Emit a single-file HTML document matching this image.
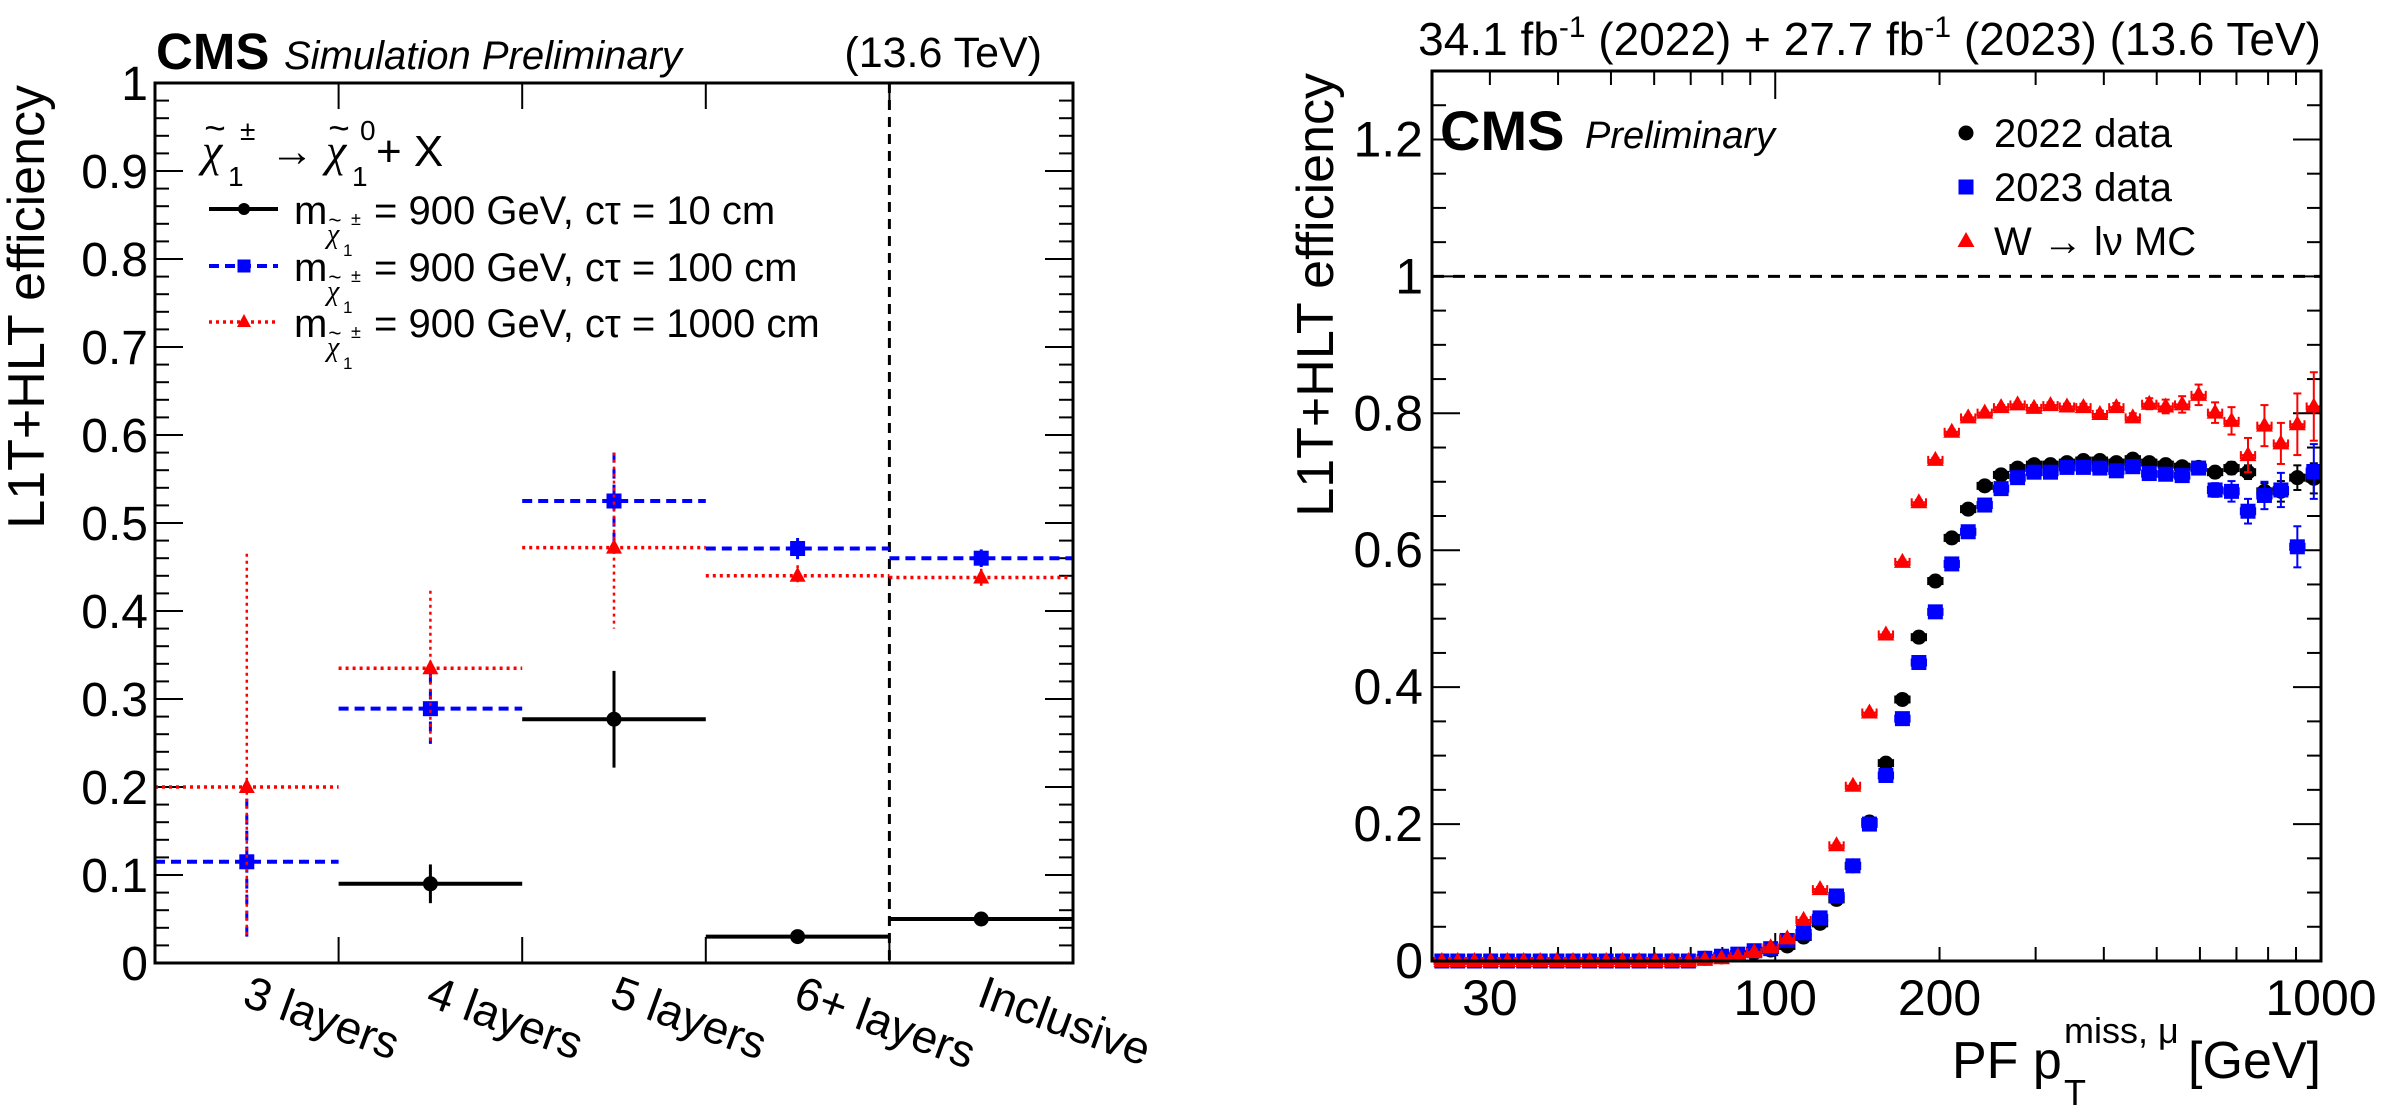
<!DOCTYPE html>
<html><head><meta charset="utf-8"><title>CMS L1T+HLT efficiency</title>
<style>
html,body{margin:0;padding:0;background:#fff;}
svg{display:block;font-family:"Liberation Sans",sans-serif;}
</style></head>
<body>
<svg id="fig" width="2397" height="1118" viewBox="0 0 2397 1118" xmlns="http://www.w3.org/2000/svg">
  <g id="left"></g>
  <g id="right"></g>
</svg>
<script>
// ---------- Left chart data ----------
const categories = ["3 layers","4 layers","5 layers","6+ layers","Inclusive"];
const yTicksLeft = ["0","0.1","0.2","0.3","0.4","0.5","0.6","0.7","0.8","0.9","1"];
const black10 = [null, 0.090, 0.277, 0.030, 0.050];
const black10Up = [null, 0.022, 0.055, 0.004, 0.004];
const black10Dn = [null, 0.022, 0.055, 0.004, 0.004];
const blue100 = [0.115, 0.289, 0.525, 0.471, 0.460];
const blue100Up = [0.090, 0.040, 0.055, 0.012, 0.010];
const blue100Dn = [0.085, 0.040, 0.060, 0.012, 0.010];
const red1000 = [0.200, 0.335, 0.472, 0.440, 0.438];
const red1000Up = [0.265, 0.088, 0.108, 0.012, 0.010];
const red1000Dn = [0.170, 0.085, 0.092, 0.012, 0.010];

// ---------- Right chart data ----------
const ptBins = [24.5,26.2,28.1,30.1,32.3,34.6,37.1,39.8,42.6,45.7,49.0,52.5,56.3,60.3,64.7,69.3,74.3,79.7,85.4,91.5,98.1,105.2,112.7,120.8,129.5,138.8,148.8,159.5,171.0,183.3,196.5,210.6,225.7,242.0,259.3,278.0,298.0,319.4,342.4,367.0,393.4,421.7,452.0,484.5,519.3,556.7,596.7,639.6,685.6,734.9,787.7,844.3,905.0,970.1];
const eff2022 = [0,0,0,0,0,0,0,0,0,0,0,0,0,0,0,0,0.004,0.006,0.009,0.012,0.016,0.022,0.035,0.055,0.090,0.139,0.203,0.289,0.382,0.473,0.555,0.618,0.660,0.694,0.710,0.720,0.725,0.725,0.728,0.731,0.731,0.728,0.733,0.728,0.725,0.722,0.721,0.714,0.720,0.714,0.686,0.686,0.706,0.705];
const eff2023 = [0,0,0,0,0,0,0,0,0,0,0,0,0,0,0,0,0.004,0.007,0.010,0.015,0.018,0.030,0.041,0.063,0.095,0.139,0.200,0.271,0.354,0.436,0.510,0.580,0.627,0.666,0.690,0.706,0.714,0.714,0.721,0.721,0.720,0.716,0.722,0.712,0.711,0.709,0.720,0.688,0.686,0.657,0.680,0.688,0.605,0.715];
const effMC = [0,0,0,0,0,0,0,0,0,0,0,0,0,0,0,0,0.002,0.004,0.007,0.013,0.020,0.033,0.060,0.105,0.169,0.256,0.363,0.477,0.583,0.670,0.732,0.773,0.794,0.801,0.809,0.813,0.808,0.812,0.810,0.809,0.799,0.809,0.794,0.814,0.810,0.813,0.827,0.801,0.789,0.739,0.782,0.756,0.784,0.810];
const err2022 = [0,0,0,0,0,0,0,0,0,0,0,0,0,0,0,0,0,0,0,0,0.003,0.003,0.003,0.003,0.003,0.003,0.003,0.003,0.003,0.003,0.003,0.003,0.003,0.003,0.003,0.003,0.003,0.003,0.003,0.003,0.003,0.004,0.004,0.005,0.005,0.006,0.007,0.008,0.009,0.010,0.012,0.015,0.018,0.022];
const err2023 = [0,0,0,0,0,0,0,0,0,0,0,0,0,0,0,0,0,0,0,0,0.003,0.003,0.003,0.003,0.003,0.003,0.003,0.003,0.003,0.003,0.003,0.003,0.003,0.003,0.003,0.003,0.003,0.003,0.003,0.003,0.003,0.004,0.004,0.005,0.006,0.007,0.008,0.010,0.015,0.018,0.020,0.025,0.030,0.040];
const errMC = [0,0,0,0,0,0,0,0,0,0,0,0,0,0,0,0,0,0,0,0,0.003,0.003,0.003,0.003,0.003,0.003,0.003,0.003,0.003,0.003,0.003,0.003,0.003,0.003,0.003,0.003,0.004,0.004,0.004,0.005,0.005,0.006,0.006,0.008,0.010,0.012,0.015,0.015,0.020,0.025,0.030,0.030,0.045,0.050];
const yTicksRight = ["0","0.2","0.4","0.6","0.8","1","1.2"];
const xTickValuesRight = [30,100,200,1000];
const xTickLabelsRight = ["30","100","200","1000"];

const NS = "http://www.w3.org/2000/svg";
function mk(parent, tag, attrs, text){
  const e = document.createElementNS(NS, tag);
  for (const k in attrs) e.setAttribute(k, attrs[k]);
  if (text !== undefined) e.textContent = text;
  parent.appendChild(e);
  return e;
}
function chi(g, x, y, size){
  mk(g, 'text', {x: x, y: y, 'font-size': size, 'font-family': '"Liberation Serif",serif', 'font-style': 'italic'}, 'χ');
  mk(g, 'text', {x: x + size * 0.05, y: y - size * 0.55, 'font-size': size * 0.8, 'font-family': '"Liberation Sans",sans-serif'}, '~');
}

// ================= LEFT PANEL =================
const L = document.getElementById('left');
const LX0 = 155, LX1 = 1073, LY0 = 963, LY1 = 83;
const nCat = categories.length;
const binW = (LX1 - LX0) / nCat;
function xL(i){ return LX0 + binW * (i + 0.5); }
function xEdge(i){ return LX0 + binW * i; }
function yL(v){ return LY0 - (LY0 - LY1) * v; }

for (let i = 0; i <= 50; i++) {
  const v = i / 50;
  const major = (i % 5 === 0);
  const len = major ? 28 : 14;
  let t = mk(L, 'line', {x1: LX0, x2: LX0 + len, y1: yL(v), y2: yL(v), stroke: '#000', 'stroke-width': 2});
  
  
  t = mk(L, 'line', {x1: LX1, x2: LX1 - len, y1: yL(v), y2: yL(v), stroke: '#000', 'stroke-width': 2});
  
  
}
yTicksLeft.forEach((lab, i) => {
  const t = mk(L, 'text', {x: 148, y: yL(i / 10) + 17, 'text-anchor': 'end', 'font-size': 48}, lab);
  
  
});
for (let i = 1; i < nCat; i++) {
  let t = mk(L, 'line', {x1: xEdge(i), x2: xEdge(i), y1: LY0, y2: LY0 - 26, stroke: '#000', 'stroke-width': 2});
  
  
  t = mk(L, 'line', {x1: xEdge(i), x2: xEdge(i), y1: LY1, y2: LY1 + 26, stroke: '#000', 'stroke-width': 2});
  
  
}
categories.forEach((c, i) => {
  const x = xL(i) - 6, y = 1005;
  const t = mk(L, 'text', {x: x, y: y, 'font-size': 46, transform: `rotate(20 ${x} ${y})`}, c);
  
  
});
{
  const d = mk(L, 'line', {x1: xEdge(4), x2: xEdge(4), y1: LY1, y2: LY0, stroke: '#000', 'stroke-width': 3, 'stroke-dasharray': '10 7'});
  
  
}
function drawLeftSeries(vals, up, dn, color, width, dash, marker, name) {
  vals.forEach((v, i) => {
    if (v === null) return;
    const g = mk(L, 'g', {});
    
    
    const y = yL(v), x = xL(i);
    mk(g, 'line', {x1: xEdge(i), x2: xEdge(i + 1), y1: y, y2: y, stroke: color, 'stroke-width': width, 'stroke-dasharray': dash});
    mk(g, 'line', {x1: x, x2: x, y1: yL(v + up[i]), y2: yL(v - dn[i]), stroke: color, 'stroke-width': width - 1, 'stroke-dasharray': dash});
    if (marker === 'circle') mk(g, 'circle', {cx: x, cy: y, r: 7.5, fill: color});
    else if (marker === 'square') mk(g, 'rect', {x: x - 7.5, y: y - 7.5, width: 15, height: 15, fill: color});
    else mk(g, 'polygon', {points: `${x},${y - 9} ${x - 8},${y + 6} ${x + 8},${y + 6}`, fill: color});
  });
}
drawLeftSeries(black10, black10Up, black10Dn, '#000', 4, 'none', 'circle', 'ctau-10cm');
drawLeftSeries(blue100, blue100Up, blue100Dn, '#0000ff', 4, '10 6', 'square', 'ctau-100cm');
drawLeftSeries(red1000, red1000Up, red1000Dn, '#ff0000', 3.5, '3 4', 'triangle', 'ctau-1000cm');
{
  const f = mk(L, 'rect', {x: LX0, y: LY1, width: LX1 - LX0, height: LY0 - LY1, fill: 'none', stroke: '#000', 'stroke-width': 3});
  
  
}
{
  let t = mk(L, 'text', {x: 156, y: 69, 'font-size': 51, 'font-weight': 'bold'}, 'CMS');
  
  
  t = mk(L, 'text', {x: 284, y: 69, 'font-size': 40, 'font-style': 'italic'}, 'Simulation Preliminary');
  
  
  t = mk(L, 'text', {x: 1042, y: 67, 'font-size': 43, 'text-anchor': 'end'}, '(13.6 TeV)');
  
  
  t = mk(L, 'text', {x: 0, y: 0, 'font-size': 52, 'text-anchor': 'end', transform: 'translate(44,85) rotate(-90)'}, 'L1T+HLT efficiency');
  
  
}
{
  const g = mk(L, 'g', {});
  
  
  chi(g, 202, 166, 46);
  mk(g, 'text', {x: 228, y: 186, 'font-size': 28}, '1');
  mk(g, 'text', {x: 240, y: 140, 'font-size': 28}, '±');
  mk(g, 'text', {x: 270, y: 166, 'font-size': 44}, '→');
  chi(g, 326, 166, 46);
  mk(g, 'text', {x: 352, y: 186, 'font-size': 28}, '1');
  mk(g, 'text', {x: 360, y: 140, 'font-size': 28}, '0');
  mk(g, 'text', {x: 376, y: 166, 'font-size': 44}, '+ X');
}
const legendLeft = [
  {y: 209, color: '#000', dash: 'none', w: 4, marker: 'circle', label: '= 900 GeV, cτ = 10 cm', name: 'legend-entry-10cm'},
  {y: 266, color: '#0000ff', dash: '10 6', w: 4, marker: 'square', label: '= 900 GeV, cτ = 100 cm', name: 'legend-entry-100cm'},
  {y: 322, color: '#ff0000', dash: '3 4', w: 3.5, marker: 'triangle', label: '= 900 GeV, cτ = 1000 cm', name: 'legend-entry-1000cm'}
];
legendLeft.forEach(e => {
  const g = mk(L, 'g', {});
  
  
  mk(g, 'line', {x1: 209, x2: 278, y1: e.y, y2: e.y, stroke: e.color, 'stroke-width': e.w, 'stroke-dasharray': e.dash});
  const x = 244, y = e.y;
  if (e.marker === 'circle') mk(g, 'circle', {cx: x, cy: y, r: 6, fill: e.color});
  else if (e.marker === 'square') mk(g, 'rect', {x: x - 6.5, y: y - 6.5, width: 13, height: 13, fill: e.color});
  else mk(g, 'polygon', {points: `${x},${y - 8} ${x - 7},${y + 5} ${x + 7},${y + 5}`, fill: e.color});
  mk(g, 'text', {x: 294, y: y + 15, 'font-size': 40}, 'm');
  chi(g, 327, y + 34, 28);
  mk(g, 'text', {x: 343, y: y + 47, 'font-size': 17}, '1');
  mk(g, 'text', {x: 351, y: y + 16, 'font-size': 18}, '±');
  mk(g, 'text', {x: 374, y: y + 15, 'font-size': 40}, e.label);
});

// ================= RIGHT PANEL =================
const R = document.getElementById('right');
const RX0 = 1432, RX1 = 2321, RY0 = 961, RY1 = 71;
const XMIN = 23.5, XMAX = 1000, YMAX = 1.3;
function xR(x){ return RX0 + (RX1 - RX0) * Math.log10(x / XMIN) / Math.log10(XMAX / XMIN); }
function yR(v){ return RY0 - (RY0 - RY1) * v / YMAX; }

for (let i = 0; i <= 26; i++) {
  const v = i * 0.05;
  const major = (i % 4 === 0);
  const len = major ? 28 : 14;
  let t = mk(R, 'line', {x1: RX0, x2: RX0 + len, y1: yR(v), y2: yR(v), stroke: '#000', 'stroke-width': 2});
  
  
  t = mk(R, 'line', {x1: RX1, x2: RX1 - len, y1: yR(v), y2: yR(v), stroke: '#000', 'stroke-width': 2});
  
  
}
yTicksRight.forEach((lab, i) => {
  const t = mk(R, 'text', {x: RX0 - 9, y: yR(i * 0.2) + 17, 'text-anchor': 'end', 'font-size': 50}, lab);
  
  
});
for (let dec = 10; dec <= 1000; dec *= 10) {
  for (let m = 1; m <= 9; m++) {
    const x = dec * m;
    if (x < XMIN || x > XMAX) continue;
    const len = (m === 1) ? 28 : 14;
    let t = mk(R, 'line', {x1: xR(x), x2: xR(x), y1: RY0, y2: RY0 - len, stroke: '#000', 'stroke-width': 2});
    
    
    t = mk(R, 'line', {x1: xR(x), x2: xR(x), y1: RY1, y2: RY1 + len, stroke: '#000', 'stroke-width': 2});
    
    
  }
}
xTickValuesRight.forEach((v, i) => {
  const t = mk(R, 'text', {x: xR(v), y: 1015, 'text-anchor': 'middle', 'font-size': 50}, xTickLabelsRight[i]);
  
  
});
{
  const d = mk(R, 'line', {x1: RX0, x2: RX1, y1: yR(1), y2: yR(1), stroke: '#000', 'stroke-width': 3, 'stroke-dasharray': '12 9'});
  
  
}
const logStep = Math.log10(ptBins[1] / ptBins[0]);
function drawRightSeries(vals, errs, color, marker, name) {
  vals.forEach((v, i) => {
    const g = mk(R, 'g', {});
    
    
    const x = xR(ptBins[i]), y = yR(v);
    const xl = xR(ptBins[i] * Math.pow(10, -logStep * 0.45));
    const xh = xR(ptBins[i] * Math.pow(10, logStep * 0.45));
    mk(g, 'line', {x1: xl, x2: xh, y1: y, y2: y, stroke: color, 'stroke-width': 2});
    mk(g, 'line', {x1: xl, x2: xl, y1: y - 4, y2: y + 4, stroke: color, 'stroke-width': 2});
    mk(g, 'line', {x1: xh, x2: xh, y1: y - 4, y2: y + 4, stroke: color, 'stroke-width': 2});
    if (errs[i] > 0) {
      const y1 = yR(v + errs[i]), y2 = yR(v - errs[i]);
      mk(g, 'line', {x1: x, x2: x, y1: y1, y2: y2, stroke: color, 'stroke-width': 2});
      mk(g, 'line', {x1: x - 4, x2: x + 4, y1: y1, y2: y1, stroke: color, 'stroke-width': 2});
      mk(g, 'line', {x1: x - 4, x2: x + 4, y1: y2, y2: y2, stroke: color, 'stroke-width': 2});
    }
    if (marker === 'circle') mk(g, 'circle', {cx: x, cy: y, r: 7.5, fill: color});
    else if (marker === 'square') mk(g, 'rect', {x: x - 7.5, y: y - 7.5, width: 15, height: 15, fill: color});
    else mk(g, 'polygon', {points: `${x},${y - 9} ${x - 8.5},${y + 6} ${x + 8.5},${y + 6}`, fill: color});
  });
}
drawRightSeries(eff2022, err2022, '#000', 'circle', 'data-2022');
drawRightSeries(eff2023, err2023, '#0000ff', 'square', 'data-2023');
drawRightSeries(effMC, errMC, '#ff0000', 'triangle', 'w-mc');
{
  const f = mk(R, 'rect', {x: RX0, y: RY1, width: RX1 - RX0, height: RY0 - RY1, fill: 'none', stroke: '#000', 'stroke-width': 3});
  
  
}
{
  let t = mk(R, 'text', {x: 2321, y: 55, 'font-size': 46, 'text-anchor': 'end'});
  
  
  t.innerHTML = '34.1 fb<tspan dy="-18" font-size="30">-1</tspan><tspan dy="18"> (2022) + 27.7 fb</tspan><tspan dy="-18" font-size="30">-1</tspan><tspan dy="18"> (2023) (13.6 TeV)</tspan>';
  t = mk(R, 'text', {x: 1440, y: 150, 'font-size': 56, 'font-weight': 'bold'}, 'CMS');
  
  
  t = mk(R, 'text', {x: 1585, y: 148, 'font-size': 38, 'font-style': 'italic'}, 'Preliminary');
  
  
  t = mk(R, 'text', {x: 0, y: 0, 'font-size': 52, 'text-anchor': 'end', transform: 'translate(1333,73) rotate(-90)'}, 'L1T+HLT efficiency');
  
  
  const g = mk(R, 'g', {});
  
  
  mk(g, 'text', {x: 1952, y: 1078, 'font-size': 52}, 'PF p');
  mk(g, 'text', {x: 2064, y: 1043, 'font-size': 36}, 'miss, μ');
  mk(g, 'text', {x: 2064, y: 1105, 'font-size': 36}, 'T');
  mk(g, 'text', {x: 2321, y: 1078, 'font-size': 52, 'text-anchor': 'end'}, '[GeV]');
}
const legendRight = [
  {y: 133, color: '#000', marker: 'circle', label: '2022 data', name: 'legend-entry-2022'},
  {y: 187, color: '#0000ff', marker: 'square', label: '2023 data', name: 'legend-entry-2023'},
  {y: 241, color: '#ff0000', marker: 'triangle', label: 'W → lν MC', name: 'legend-entry-mc'}
];
legendRight.forEach(e => {
  const g = mk(R, 'g', {});
  
  
  const x = 1966, y = e.y;
  if (e.marker === 'circle') mk(g, 'circle', {cx: x, cy: y, r: 7.5, fill: e.color});
  else if (e.marker === 'square') mk(g, 'rect', {x: x - 7.5, y: y - 7.5, width: 15, height: 15, fill: e.color});
  else mk(g, 'polygon', {points: `${x},${y - 9} ${x - 8.5},${y + 6} ${x + 8.5},${y + 6}`, fill: e.color});
  mk(g, 'text', {x: 1994, y: y + 14, 'font-size': 40}, e.label);
});
</script>
</body></html>
